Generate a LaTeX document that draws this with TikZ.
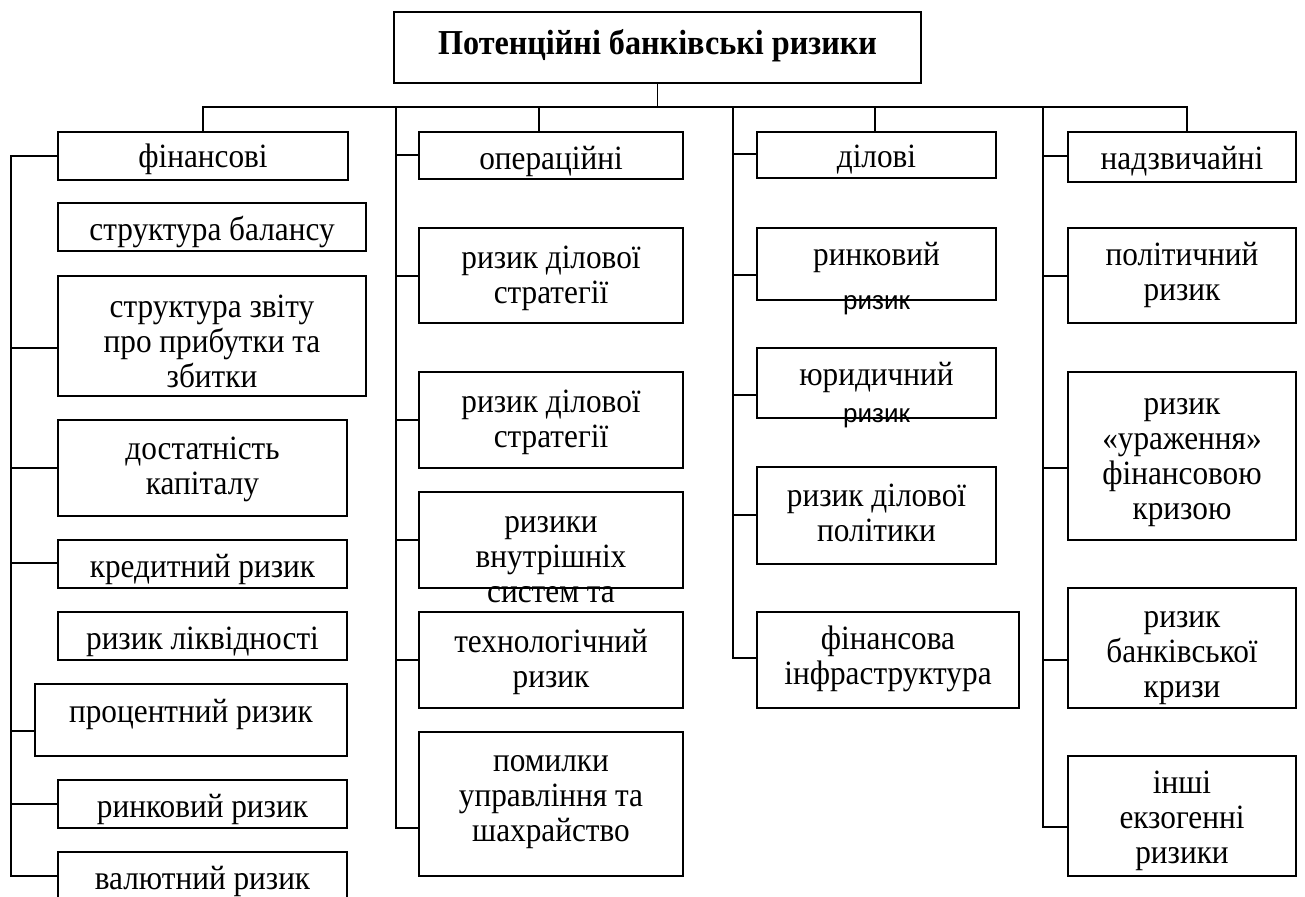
\documentclass[tikz,border=0pt]{standalone}
\usepackage{fontspec}
\setmainfont[FakeStretch=0.92]{Liberation Serif}
\newfontfamily\sansf{Liberation Sans}
\tikzset{
  ln/.style={line width=1.6pt, line cap=rect},
  box/.style={draw, rectangle, line width=1.6pt, inner sep=0pt, outer sep=0pt},
  txt/.style={align=center, inner sep=0pt, font=\fontsize{34}{35}\selectfont},
  stxt/.style={inner sep=0pt, anchor=base, font=\sansf\fontsize{26}{30}\selectfont},
}
\newcommand\bx[7]{%
  \node[box, minimum width={(#4)-(#2)}, minimum height={(#5)-(#3)}] (#1) at ({((#2)+(#4))/2},{((#3)+(#5))/2}) {};
  \node[txt] (#1-t) at ({((#2)+(#4))/2},#6) {#7};
}
\newcommand\conn[3]{\coordinate (k-#3) at (#1,#2); \draw[ln] (k-#3) -- (k-#3 -| #3.west);}
\begin{document}
\begin{tikzpicture}[x=1pt,y=-1pt]
\useasboundingbox (0,0) rectangle (1305,896);
\clip (0,0) rectangle (1305,896);
% title
\bx{T}{394}{12}{921}{83}{47}{\fontsize{35}{35}\selectfont\bfseries\strut Потенційні банківські ризики}
% column 1
\bx{f0}{58}{132}{348}{180}{161}{\strut фінансові}
\bx{f1}{58}{203}{366}{251}{233}{\strut структура балансу}
\bx{f2}{58}{276}{366}{396}{345}{\strut структура звіту\\\strut про прибутки та\\\strut збитки}
\bx{f3}{58}{420}{347}{516}{470}{\strut достатність\\\strut капіталу}
\bx{f4}{58}{540}{347}{588}{570}{\strut кредитний ризик}
\bx{f5}{58}{612}{347}{660}{642}{\strut ризик ліквідності}
\bx{f6}{35}{684}{347}{756}{715}{\strut процентний ризик}
\bx{f7}{58}{780}{347}{828}{810}{\strut ринковий ризик}
\bx{f8}{58}{852}{347}{915}{882}{\strut валютний ризик}
% column 2
\bx{o0}{419}{132}{683}{179}{163}{\strut операційні}
\bx{o1}{419}{228}{683}{323}{279}{\strut ризик ділової\\\strut стратегії}
\bx{o2}{419}{372}{683}{468}{423}{\strut ризик ділової\\\strut стратегії}
\bx{o3}{419}{492}{683}{588}{560}{\strut ризики\\\strut внутрішніх\\\strut систем та}
\bx{o4}{419}{612}{683}{708}{663}{\strut технологічний\\\strut ризик}
\bx{o5}{419}{732}{683}{876}{799}{\strut помилки\\\strut управління та\\\strut шахрайство}
% column 3
\bx{d0}{757}{132}{996}{178}{161}{\strut ділові}
\bx{d1}{757}{228}{996}{300}{258}{\strut ринковий}
\node[stxt] (d1-s) at (876.5,309) {ризик};
\bx{d2}{757}{348}{996}{418}{378}{\strut юридичний}
\node[stxt] (d2-s) at (876.5,422) {ризик};
\bx{d3}{757}{467}{996}{564}{517}{\strut ризик ділової\\\strut політики}
\bx{d4}{757}{612}{1019}{708}{660}{\strut фінансова\\\strut інфраструктура}
% column 4
\bx{n0}{1068}{132}{1296}{182}{163}{\strut надзвичайні}
\bx{n1}{1068}{228}{1296}{323}{276}{\strut політичний\\\strut ризик}
\bx{n2}{1068}{372}{1296}{540}{460}{\strut ризик\\\strut «ураження»\\\strut фінансовою\\\strut кризою}
\bx{n3}{1068}{588}{1296}{708}{655}{\strut ризик\\\strut банківської\\\strut кризи}
\bx{n4}{1068}{756}{1296}{876}{821}{\strut інші\\\strut екзогенні\\\strut ризики}
% bus
\coordinate (b1) at (203,107);
\coordinate (b2) at (539,107);
\coordinate (b3) at (875,107);
\coordinate (b4) at (1187,107);
\draw[ln] (T.south) -- (T.south |- b1);
\draw[ln] (b1) -- (b4);
\draw[ln] (b1) -- (b1 |- f0.north);
\draw[ln] (b2) -- (b2 |- o0.north);
\draw[ln] (b3) -- (b3 |- d0.north);
\draw[ln] (b4) -- (b4 |- n0.north);
\coordinate (s2) at (396,107);
\coordinate (s3) at (733,107);
\coordinate (s4) at (1043,107);
% column 1 connectors
\conn{11}{156}{f0}
\conn{11}{348}{f2}
\conn{11}{468}{f3}
\conn{11}{563}{f4}
\conn{11}{731}{f6}
\conn{11}{804}{f7}
\conn{11}{876}{f8}
\draw[ln] (k-f0) -- (k-f8);
% column 2 connectors
\conn{396}{155}{o0}
\conn{396}{276}{o1}
\conn{396}{420}{o2}
\conn{396}{540}{o3}
\conn{396}{660}{o4}
\conn{396}{828}{o5}
\draw[ln] (s2) -- (k-o5);
% column 3 connectors
\conn{733}{154}{d0}
\conn{733}{275}{d1}
\conn{733}{395}{d2}
\conn{733}{515}{d3}
\conn{733}{658}{d4}
\draw[ln] (s3) -- (k-d4);
% column 4 connectors
\conn{1043}{156}{n0}
\conn{1043}{276}{n1}
\conn{1043}{468}{n2}
\conn{1043}{660}{n3}
\conn{1043}{827}{n4}
\draw[ln] (s4) -- (k-n4);
\end{tikzpicture}
\end{document}
